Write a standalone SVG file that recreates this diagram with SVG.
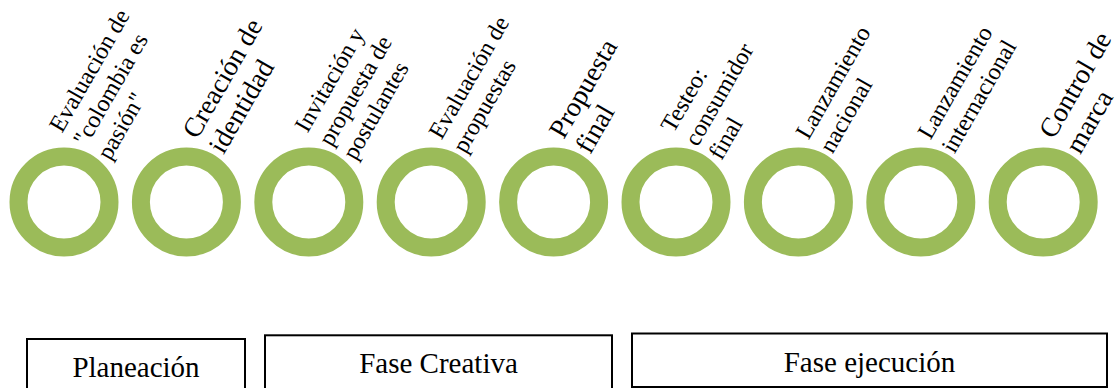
<svg xmlns="http://www.w3.org/2000/svg" width="1118" height="388" viewBox="0 0 1118 388">
  <style>
    .ring { fill: none; stroke: #9BBB59; stroke-width: 18; }
    text { font-family: 'Liberation Serif', 'DejaVu Serif', serif; fill: #000; }
    .s24 { font-size: 24px; }
    .s28 { font-size: 27.5px; }
    .phase rect { fill: #fff; stroke: #000; stroke-width: 2; }
    .phase text { font-size: 29px; text-anchor: middle; }
  </style>
  <rect width="1118" height="388" fill="#fff"/>

  <!-- milestones: ring + rotated caption -->
  <g id="step-evaluacion-colombia">
    <circle class="ring" cx="64" cy="202" r="45.5"/>
    <text class="s24" transform="translate(86,147.5) rotate(-60)">
      <tspan x="0" y="-27.6">Evaluación de</tspan>
      <tspan x="0" y="0">"colombia es</tspan>
      <tspan x="0" y="27.6">pasión"</tspan>
    </text>
  </g>
  <g id="step-creacion-identidad">
    <circle class="ring" cx="186.4" cy="202" r="45.5"/>
    <text class="s28" transform="translate(210.4,147.5) rotate(-60)">
      <tspan x="0" y="-15.25">Creación de</tspan>
      <tspan x="0" y="15.25">identidad</tspan>
    </text>
  </g>
  <g id="step-invitacion">
    <circle class="ring" cx="308.8" cy="202" r="45.5"/>
    <text class="s24" transform="translate(331.5,147.5) rotate(-60)">
      <tspan x="0" y="-27.6">Invitación y</tspan>
      <tspan x="0" y="0">propuesta de</tspan>
      <tspan x="0" y="27.6">postulantes</tspan>
    </text>
  </g>
  <g id="step-evaluacion-propuestas">
    <circle class="ring" cx="431.2" cy="202" r="45.5"/>
    <text class="s24" transform="translate(453.5,147.5) rotate(-60)">
      <tspan x="0" y="-13.8">Evaluación de</tspan>
      <tspan x="0" y="13.8">propuestas</tspan>
    </text>
  </g>
  <g id="step-propuesta-final">
    <circle class="ring" cx="553.6" cy="202" r="45.5"/>
    <text class="s28" transform="translate(577,147.5) rotate(-60)">
      <tspan x="0" y="-15.25">Propuesta</tspan>
      <tspan x="0" y="15.25">final</tspan>
    </text>
  </g>
  <g id="step-testeo">
    <circle class="ring" cx="676" cy="202" r="45.5"/>
    <text class="s24" transform="translate(697.5,147.5) rotate(-60)">
      <tspan x="0" y="-27.6">Testeo:</tspan>
      <tspan x="0" y="0">consumidor</tspan>
      <tspan x="0" y="27.6">final</tspan>
    </text>
  </g>
  <g id="step-lanzamiento-nacional">
    <circle class="ring" cx="798.4" cy="202" r="45.5"/>
    <text class="s24" transform="translate(820.5,147.5) rotate(-60)">
      <tspan x="0" y="-13.8">Lanzamiento</tspan>
      <tspan x="0" y="13.8">nacional</tspan>
    </text>
  </g>
  <g id="step-lanzamiento-internacional">
    <circle class="ring" cx="920.8" cy="202" r="45.5"/>
    <text class="s24" transform="translate(942.5,147.5) rotate(-60)">
      <tspan x="0" y="-13.8">Lanzamiento</tspan>
      <tspan x="0" y="13.8">internacional</tspan>
    </text>
  </g>
  <g id="step-control-marca">
    <circle class="ring" cx="1043.2" cy="202" r="45.5"/>
    <text class="s28" transform="translate(1067,147.5) rotate(-60)">
      <tspan x="0" y="-15.25">Control de</tspan>
      <tspan x="0" y="15.25">marca</tspan>
    </text>
  </g>

  <!-- phase boxes -->
  <g id="phase-planeacion" class="phase">
    <rect x="27" y="339" width="218" height="56"/>
    <text x="136" y="377">Planeación</text>
  </g>
  <g id="phase-creativa" class="phase">
    <rect x="265" y="335.3" width="347" height="56"/>
    <text x="438.5" y="373.3">Fase Creativa</text>
  </g>
  <g id="phase-ejecucion" class="phase">
    <rect x="632" y="333.5" width="475" height="53.5"/>
    <text x="869.5" y="371.5">Fase ejecución</text>
  </g>
</svg>
